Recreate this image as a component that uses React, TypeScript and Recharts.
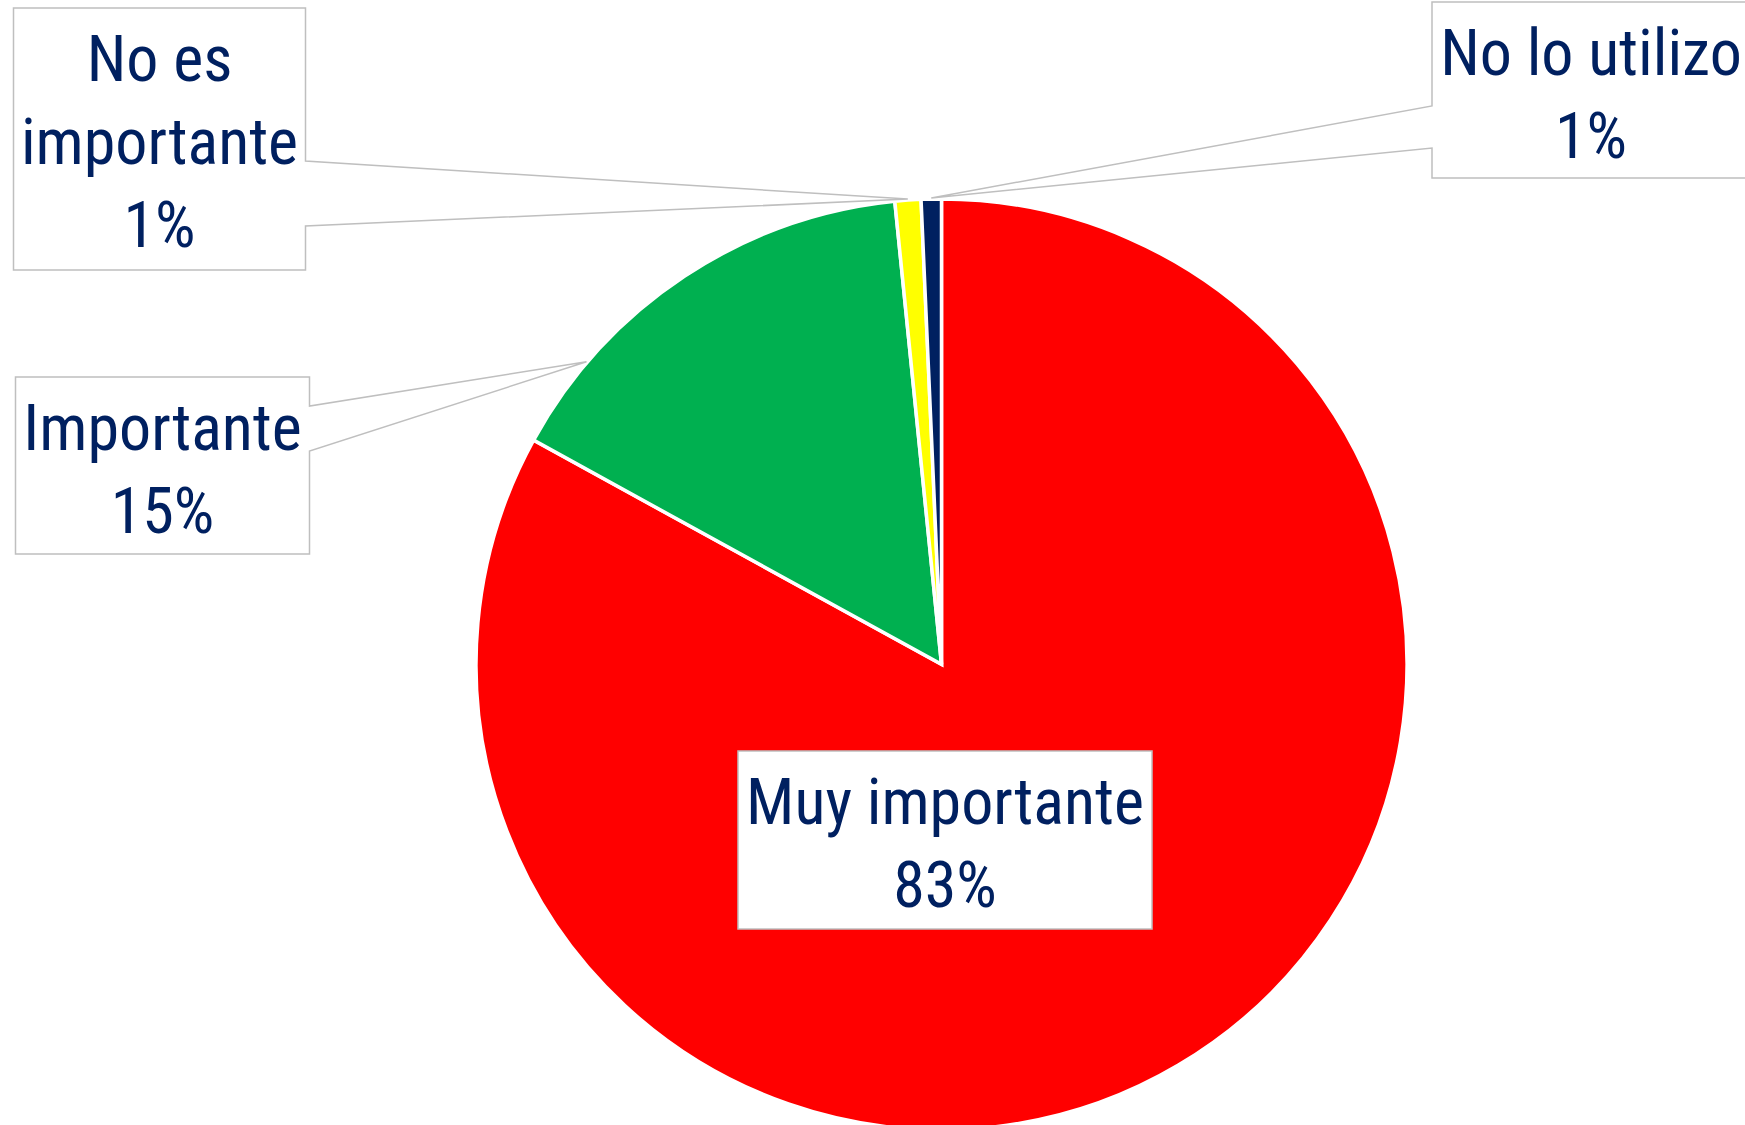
import React from 'react';
import { PieChart, Pie, Cell } from 'recharts';

const categories = ['Muy importante', 'Importante', 'No es importante', 'No lo utilizo'];
const shares = [83.0, 15.4, 0.9, 0.7];
const colors = ['#FF0000', '#00B050', '#FFFF00', '#002060'];

const data = categories.map((name, i) => ({ name, value: shares[i] }));

const W = 1745;
const H = 1125;
const CX = 941.5;
const CY = 664.4;
const R = 465.5;

type Layout = {
  x: number; y: number; w: number; h: number;
  words: number[]; side?: 'left' | 'right'; a1?: number; a2?: number; tipAt?: number;
};

const layouts: Layout[] = [
  { x: 738, y: 751, w: 414, h: 178, words: [2] },
  { x: 15.5, y: 377, w: 294, h: 177, words: [1], side: 'right', a1: 29, a2: 74, tipAt: 0.21 },
  { x: 13.5, y: 8, w: 292, h: 262, words: [2, 1], side: 'right', a1: 153, a2: 218, tipAt: 0.5 },
  { x: 1432, y: 2, w: 318, h: 176, words: [3], side: 'left', a1: 104, a2: 146, tipAt: 0.5 },
];

const TEXT = '#002060';
const BORDER = '#BFBFBF';
const RAD = Math.PI / 180;

const renderLabel = (props: any) => {
  const { cx, cy, outerRadius, startAngle, endAngle, index, percent } = props;
  const L = layouts[index];
  const parts = categories[index].split(' ');
  const lines: string[] = [];
  let k = 0;
  for (const n of L.words) {
    lines.push(parts.slice(k, k + n).join(' '));
    k += n;
  }
  lines.push(`${Math.round(percent * 100)}%`);

  let d: string;
  const { x, y, w, h } = L;
  if (L.side) {
    const ang = startAngle + (L.tipAt ?? 0.5) * (endAngle - startAngle);
    const tr = outerRadius + 1;
    const tx = cx + tr * Math.cos(-ang * RAD);
    const ty = cy + tr * Math.sin(-ang * RAD);
    if (L.side === 'right') {
      d = `M${x},${y} H${x + w} V${y + L.a1!} L${tx},${ty} L${x + w},${y + L.a2!} V${y + h} H${x} Z`;
    } else {
      d = `M${x + w},${y} H${x} V${y + L.a1!} L${tx},${ty} L${x},${y + L.a2!} V${y + h} H${x + w} Z`;
    }
  } else {
    d = `M${x},${y} H${x + w} V${y + h} H${x} Z`;
  }
  const mx = x + w / 2;
  return (
    <g key={`lbl-${index}`}>
      <path d={d} fill="#FFFFFF" stroke={BORDER} strokeWidth={1.5} strokeLinejoin="miter" />
      {lines.map((t, i) => (
        <text
          key={i}
          x={mx}
          y={y + 73 + i * 83}
          textAnchor="middle"
          fill={TEXT}
          fontSize={64}
          fontWeight={400}
          style={{ fontFamily: "'Roboto Condensed', Roboto, sans-serif", fontStretch: 'condensed' }}
        >
          {t}
        </text>
      ))}
    </g>
  );
};

export default function App() {
  return (
    <div style={{ position: 'absolute', left: 0, top: 0, width: W, height: H, background: '#FFFFFF' }}>
      <PieChart width={W} height={H} margin={{ top: 0, right: 0, bottom: 0, left: 0 }}>
        <Pie
          data={data}
          dataKey="value"
          nameKey="name"
          cx={CX}
          cy={CY}
          outerRadius={R}
          startAngle={90}
          endAngle={-270}
          stroke="#FFFFFF"
          strokeWidth={3.5}
          label={renderLabel}
          labelLine={false}
          isAnimationActive={false}
        >
          {data.map((_, i) => (
            <Cell key={i} fill={colors[i]} />
          ))}
        </Pie>
      </PieChart>
    </div>
  );
}
